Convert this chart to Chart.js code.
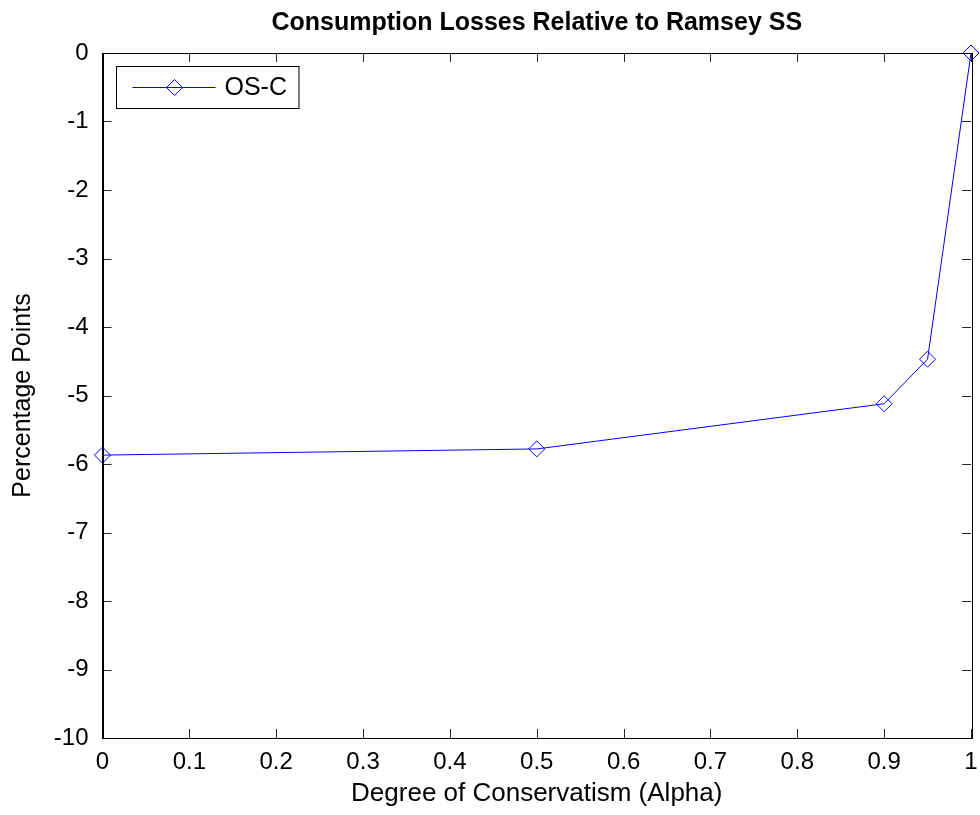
<!DOCTYPE html>
<html lang="en">
<head>
  <meta charset="UTF-8">
  <title>Consumption Losses Relative to Ramsey SS</title>
  <script src="https://cdn.jsdelivr.net/npm/chart.js"></script>
  <style>
    body {
      margin: 0;
      padding: 0;
      background: #fff;
    }

    #chart {
      display: block;
    }
  </style>
</head>
<body>
  <canvas id="chart" width="980" height="815"></canvas>

  <script>
    // Data
    const alphaValues = [0, 0.5, 0.9, 0.95, 1];
    const oscLosses = [-5.87, -5.78, -5.12, -4.47, 0];
    const seriesLabel = 'OS-C';
    const xTickValues = [0, 0.1, 0.2, 0.3, 0.4, 0.5, 0.6, 0.7, 0.8, 0.9, 1];
    const yTickValues = [0, -1, -2, -3, -4, -5, -6, -7, -8, -9, -10];

    const fontFamily = "'Liberation Sans', Arial, Helvetica, sans-serif";
    const blue = '#0000ff';

    // MATLAB style box with inward ticks on all four sides
    const boxTicks = {
      id: 'boxTicks',
      afterDatasetsDraw(chart) {
        const { ctx, chartArea: a } = chart;
        const xs = chart.scales.x, ys = chart.scales.y;
        const len = 9;
        ctx.save();
        ctx.strokeStyle = '#262626';
        ctx.lineWidth = 1;
        ctx.beginPath();
        xTickValues.forEach(v => {
          const px = Math.round(xs.getPixelForValue(v)) + 0.5;
          ctx.moveTo(px, a.bottom); ctx.lineTo(px, a.bottom - len);
          ctx.moveTo(px, a.top); ctx.lineTo(px, a.top + len);
        });
        yTickValues.forEach(v => {
          const py = Math.round(ys.getPixelForValue(v)) + 0.5;
          ctx.moveTo(a.left, py); ctx.lineTo(a.left + len, py);
          ctx.moveTo(a.right, py); ctx.lineTo(a.right - len, py);
        });
        ctx.stroke();
        ctx.strokeStyle = '#000';
        ctx.strokeRect(Math.round(a.left) + 0.5, Math.round(a.top) + 0.5,
          Math.round(a.right - a.left), Math.round(a.bottom - a.top));
        ctx.restore();
      }
    };

    // legend box in the upper left corner
    const boxLegend = {
      id: 'boxLegend',
      afterDraw(chart) {
        const { ctx, chartArea: a } = chart;
        const x0 = Math.round(a.left) + 13.5, y0 = Math.round(a.top) + 13.5;
        ctx.save();
        ctx.font = '25px ' + fontFamily;
        const tw = ctx.measureText(seriesLabel).width;
        const w = 108 + tw + 12, h = 42;
        ctx.fillStyle = '#fff';
        ctx.fillRect(x0, y0, w, h);
        ctx.strokeStyle = '#000';
        ctx.lineWidth = 1;
        ctx.strokeRect(x0, y0, w, h);
        const cy = y0 + h / 2;
        ctx.beginPath();
        ctx.strokeStyle = blue;
        ctx.moveTo(x0 + 16, cy); ctx.lineTo(x0 + 99, cy);
        const cx = x0 + 58, r = 8;
        ctx.moveTo(cx, cy - r); ctx.lineTo(cx + r, cy);
        ctx.lineTo(cx, cy + r); ctx.lineTo(cx - r, cy);
        ctx.closePath();
        ctx.stroke();
        ctx.fillStyle = '#000';
        ctx.textBaseline = 'middle';
        ctx.fillText(seriesLabel, x0 + 108, cy + 1);
        ctx.restore();
      }
    };

    new Chart(document.getElementById('chart'), {
      type: 'line',
      data: {
        datasets: [{
          label: seriesLabel,
          data: alphaValues.map((a, i) => ({ x: a, y: oscLosses[i] })),
          borderColor: blue,
          borderWidth: 1,
          backgroundColor: 'rgba(0,0,0,0)',
          pointStyle: 'rectRot',
          pointRadius: 8,
          pointBorderColor: blue,
          pointBorderWidth: 1,
          pointBackgroundColor: 'rgba(0,0,0,0)',
          tension: 0,
          clip: false
        }]
      },
      options: {
        responsive: false,
        animation: false,
        layout: { padding: { left: 0, right: 9, top: 0, bottom: 0 } },
        plugins: {
          legend: { display: false },
          tooltip: { enabled: false },
          title: {
            display: true,
            fullSize: false,
            text: 'Consumption Losses Relative to Ramsey SS',
            color: '#000',
            font: { family: fontFamily, size: 25, weight: 'bold' },
            padding: { top: 8, bottom: 15 }
          }
        },
        scales: {
          x: {
            type: 'linear',
            min: 0,
            max: 1,
            afterFit(scale) {
              scale.height = 77;
              scale.paddingLeft = 0;
              scale.paddingRight = 0;
            },
            afterBuildTicks(scale) { scale.ticks = xTickValues.map(v => ({ value: v })); },
            grid: { display: false, drawTicks: false },
            border: { display: true, color: '#000' },
            ticks: {
              color: '#000',
              padding: 10,
              maxRotation: 0,
              font: { family: fontFamily, size: 24 },
              callback: v => String(+v.toFixed(1))
            },
            title: {
              display: true,
              text: 'Degree of Conservatism (Alpha)',
              color: '#000',
              font: { family: fontFamily, size: 26 },
              padding: { top: 0, bottom: 6 }
            }
          },
          y: {
            min: -10,
            max: 0,
            afterFit(scale) {
              scale.width = 102.5;
              scale.paddingTop = 0;
              scale.paddingBottom = 0;
            },
            afterBuildTicks(scale) { scale.ticks = yTickValues.map(v => ({ value: v })); },
            grid: { display: false, drawTicks: false },
            border: { display: true, color: '#000' },
            ticks: {
              color: '#000',
              padding: 14,
              font: { family: fontFamily, size: 24 },
              callback: v => String(v)
            },
            title: {
              display: true,
              text: 'Percentage Points',
              color: '#000',
              font: { family: fontFamily, size: 25 },
              padding: { top: 8, bottom: 0 }
            }
          }
        }
      },
      plugins: [boxTicks, boxLegend]
    });
  </script>
</body>
</html>
